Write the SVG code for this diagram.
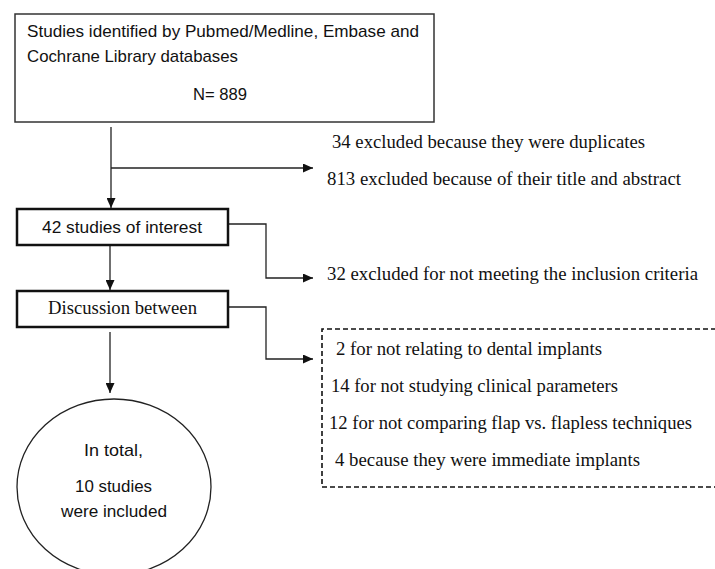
<svg xmlns="http://www.w3.org/2000/svg" width="715" height="569" viewBox="0 0 715 569">
<style>
.sans{font-family:"Liberation Sans",Arial,sans-serif;font-size:17px;fill:#111}
.serif{font-family:"Liberation Serif","Times New Roman",serif;font-size:18px;fill:#111}
.thin{fill:#fff;stroke:#333;stroke-width:1.5}
.thick{fill:#fff;stroke:#111;stroke-width:2.5}
.con{fill:none;stroke:#222;stroke-width:1.3}
.dash{fill:none;stroke:#111;stroke-width:1.6;stroke-dasharray:5,3}
</style>
<defs>
<marker id="ah" markerWidth="10" markerHeight="9" refX="10" refY="4.5" orient="auto" markerUnits="userSpaceOnUse">
<path d="M0,0 L10,4.5 L0,9 z" fill="#111"/>
</marker>
</defs>
<rect width="715" height="569" fill="#fff"/>
<g id="connectors">
<line class="con" x1="111" y1="127" x2="111" y2="208" marker-end="url(#ah)"/>
<line class="con" x1="111" y1="168" x2="313" y2="168" marker-end="url(#ah)"/>
<polyline class="con" points="228,224 266,224 266,278 313,278" marker-end="url(#ah)"/>
<line class="con" x1="110" y1="246" x2="110" y2="290" marker-end="url(#ah)"/>
<polyline class="con" points="228,307 266,307 266,359 313,359" marker-end="url(#ah)"/>
<line class="con" x1="110" y1="332" x2="110" y2="393" marker-end="url(#ah)"/>
</g>
<g id="identified">
<rect class="thin" x="15" y="14" width="419" height="108"/>
<text class="sans" x="27" y="37" textLength="392" lengthAdjust="spacingAndGlyphs">Studies identified by Pubmed/Medline, Embase and</text>
<text class="sans" x="27" y="62" textLength="211" lengthAdjust="spacingAndGlyphs">Cochrane Library databases</text>
<text class="sans" x="193" y="100" textLength="54" lengthAdjust="spacingAndGlyphs">N= 889</text>
</g>
<g id="excluded1">
<text class="serif" x="332" y="148" textLength="313" lengthAdjust="spacingAndGlyphs">34 excluded because they were duplicates</text>
<text class="serif" x="327" y="185" textLength="354" lengthAdjust="spacingAndGlyphs">813 excluded because of their title and abstract</text>
</g>
<g id="interest">
<rect class="thick" x="17" y="209" width="211" height="36"/>
<text class="sans" x="42" y="233" textLength="160" lengthAdjust="spacingAndGlyphs">42 studies of interest</text>
</g>
<g id="excluded2">
<text class="serif" x="327" y="280" textLength="371" lengthAdjust="spacingAndGlyphs">32 excluded for not meeting the inclusion criteria</text>
</g>
<g id="discussion">
<rect class="thick" x="17" y="291" width="211" height="36"/>
<text class="serif" x="48" y="314" textLength="149" lengthAdjust="spacingAndGlyphs">Discussion between</text>
</g>
<g id="reasons">
<polyline class="dash" points="716,329 322,329 322,487 716,487"/>
<text class="serif" x="336" y="355" textLength="266" lengthAdjust="spacingAndGlyphs">2 for not relating to dental implants</text>
<text class="serif" x="331" y="392" textLength="287" lengthAdjust="spacingAndGlyphs">14 for not studying clinical parameters</text>
<text class="serif" x="329" y="429" textLength="363" lengthAdjust="spacingAndGlyphs">12 for not comparing flap vs. flapless techniques</text>
<text class="serif" x="335" y="466" textLength="305" lengthAdjust="spacingAndGlyphs">4 because they were immediate implants</text>
</g>
<g id="included">
<ellipse cx="114" cy="487" rx="97" ry="88" fill="#fff" stroke="#222" stroke-width="1.3"/>
<text class="sans" x="84" y="456" textLength="59" lengthAdjust="spacingAndGlyphs">In total,</text>
<text class="sans" x="75" y="492" textLength="77" lengthAdjust="spacingAndGlyphs">10 studies</text>
<text class="sans" x="61" y="517" textLength="106" lengthAdjust="spacingAndGlyphs">were included</text>
</g>
</svg>
